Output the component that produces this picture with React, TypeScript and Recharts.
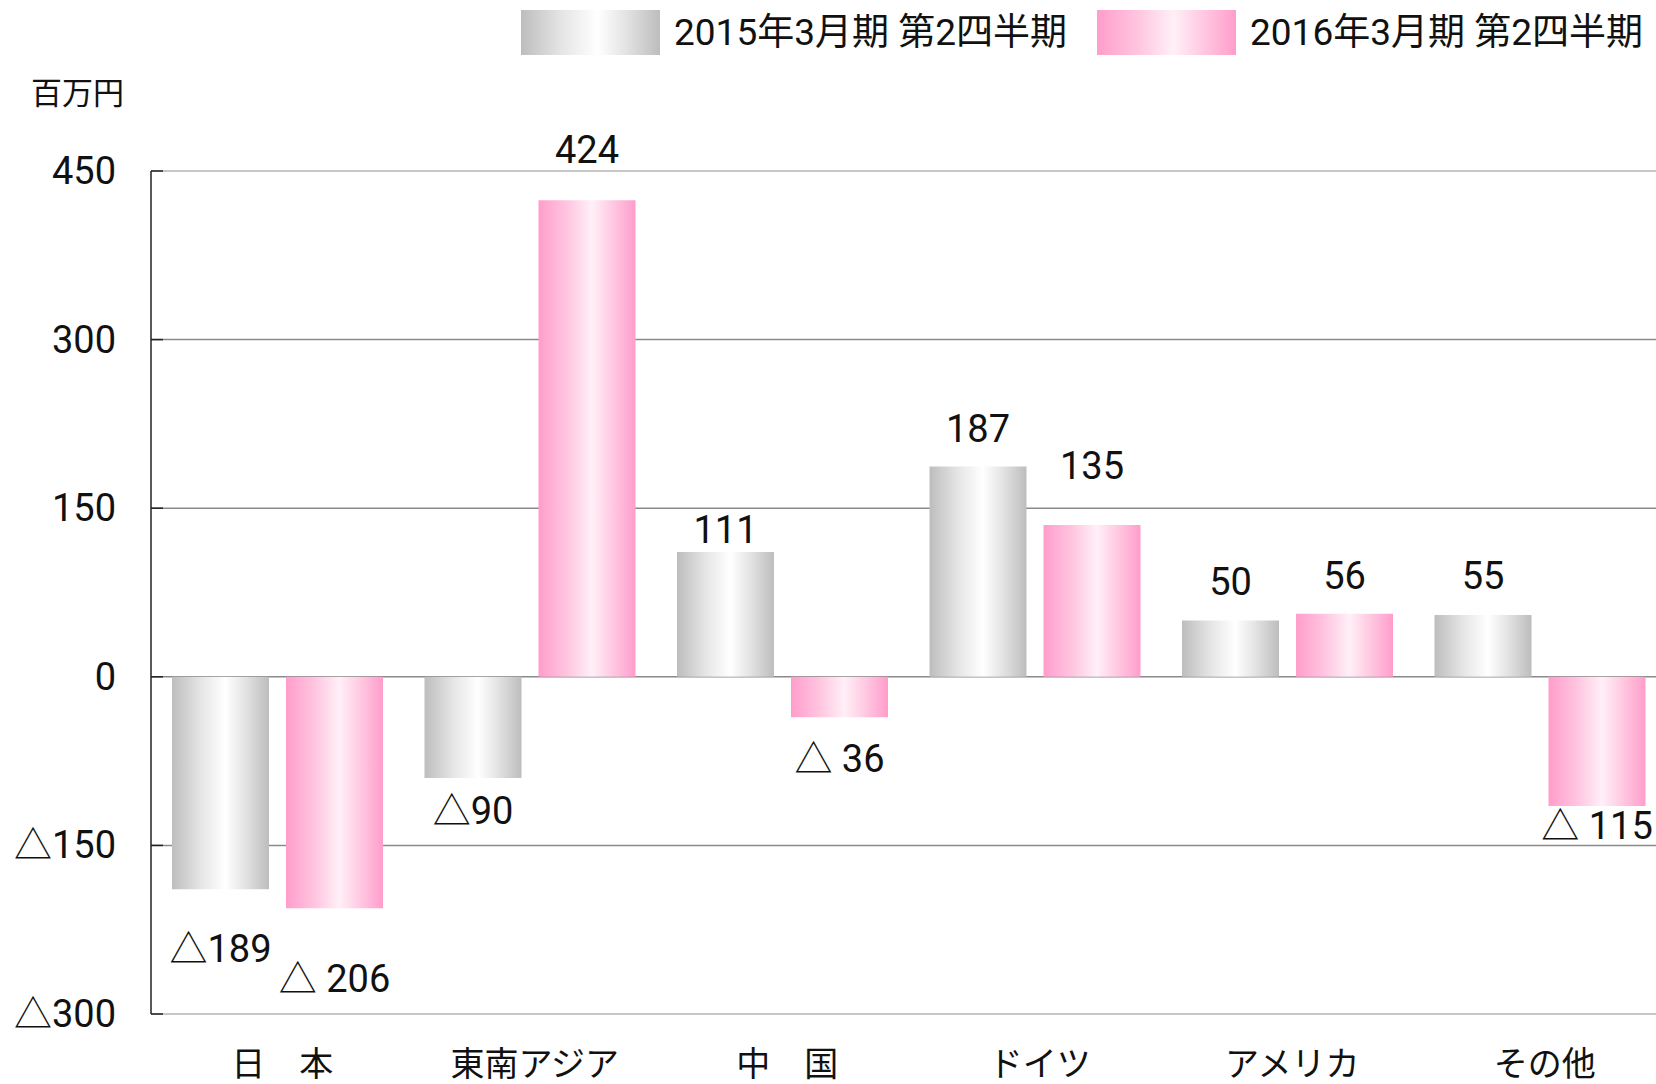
import { Bar, BarChart, CartesianGrid, LabelList, ReferenceLine, XAxis, YAxis } from 'recharts'

const regions = ['日　本', '東南アジア', '中　国', 'ドイツ', 'アメリカ', 'その他']
const fy2015 = [-189, -90, 111, 187, 50, 55]
const fy2016 = [-206, 424, -36, 135, 56, -115]
const yTicks = [-300, -150, 0, 150, 300, 450]
const seriesNames = ['2015年3月期 第2四半期', '2016年3月期 第2四半期']

// gap from the end of each bar to the middle of its value label (px)
const lift2015 = [60, 33, 22, 38, 39, 39]
const lift2016 = [71, 50, 42, 59, 38, 20]

const data = regions.map((name, i) => ({ name, a: fy2015[i], b: fy2016[i] }))

const NUM_FONT = "Roboto, 'Noto Sans CJK JP', sans-serif"
const JP_FONT = "'Noto Sans CJK JP', sans-serif"

const GRAY_BG = 'linear-gradient(to right, #bdbdbd 0%, #e6e6e6 30%, #ffffff 55%, #e4e4e4 75%, #bdbdbd 100%)'
const PINK_BG = 'linear-gradient(to right, #ff9dcb 0%, #ffc6e0 30%, #fff0f7 55%, #ffc6e0 78%, #ff9dcb 100%)'

const fmt = (v: number, gap: string) => (v < 0 ? `△${gap}${Math.abs(v)}` : String(v))

const makeLabel = (lifts: number[], gap: string) => (props: any) => {
  const vb = props.viewBox ?? {}
  const x = props.x ?? vb.x
  const y = props.y ?? vb.y
  const width = props.width ?? vb.width
  const height = props.height ?? vb.height
  const { value, index } = props
  const top = Math.min(y, y + height)
  const bottom = Math.max(y, y + height)
  const cy = value < 0 ? bottom + lifts[index] : top - lifts[index]
  return (
    <text
      x={x + width / 2}
      y={cy}
      textAnchor="middle"
      dominantBaseline="central"
      fontFamily={NUM_FONT}
      fontSize={38}
      fill="#111"
    >
      {fmt(value, gap)}
    </text>
  )
}

const YTick = (props: any) => {
  const { x, y, payload } = props
  return (
    <g>
      <line x1={x} x2={x + 12} y1={y} y2={y} stroke="#222" strokeWidth={1.5} />
      <text
        x={x - 35}
        y={y}
        textAnchor="end"
        dominantBaseline="central"
        fontFamily={NUM_FONT}
        fontSize={38}
        fill="#111"
      >
        {fmt(payload.value, '')}
      </text>
    </g>
  )
}

const XTick = (props: any) => {
  const { x, y, payload } = props
  return (
    <text
      x={x + 5}
      y={y + 47}
      textAnchor="middle"
      dominantBaseline="central"
      fontFamily={JP_FONT}
      fontSize={34}
      fill="#111"
    >
      {payload.value}
    </text>
  )
}

const LegendItem = ({ left, bg, text }: { left: number; bg: string; text: string }) => (
  <div style={{ position: 'absolute', left, top: 10, height: 45, display: 'flex', alignItems: 'center' }}>
    <div style={{ width: 139, height: 45, background: bg }} />
    <span
      style={{
        marginLeft: 14,
        fontFamily: NUM_FONT,
        fontSize: 37,
        lineHeight: '45px',
        color: '#111',
        whiteSpace: 'pre',
      }}
    >
      {text}
    </span>
  </div>
)

const App = () => {
  return (
    <div
      style={{
        position: 'fixed',
        left: 0,
        top: 0,
        width: 1656,
        height: 1084,
        overflow: 'hidden',
        background: '#fff',
      }}
    >
      <BarChart
        width={1670}
        height={1084}
        data={data}
        margin={{ top: 171, right: 4, bottom: 0, left: 0 }}
        barCategoryGap={21}
        barGap={17}
      >
        <defs>
          <linearGradient id="grayFill" x1="0" y1="0" x2="1" y2="0">
            <stop offset="0%" stopColor="#bdbdbd" />
            <stop offset="30%" stopColor="#e6e6e6" />
            <stop offset="55%" stopColor="#ffffff" />
            <stop offset="75%" stopColor="#e4e4e4" />
            <stop offset="100%" stopColor="#bdbdbd" />
          </linearGradient>
          <linearGradient id="pinkFill" x1="0" y1="0" x2="1" y2="0">
            <stop offset="0%" stopColor="#ff9dcb" />
            <stop offset="30%" stopColor="#ffc6e0" />
            <stop offset="55%" stopColor="#fff0f7" />
            <stop offset="78%" stopColor="#ffc6e0" />
            <stop offset="100%" stopColor="#ff9dcb" />
          </linearGradient>
        </defs>
        <CartesianGrid vertical={false} horizontalValues={[300, 150, 0, -150]} stroke="#8a8a8a" strokeWidth={1.5} />
        <ReferenceLine y={450} stroke="#b4b4b4" strokeWidth={1.5} />
        <XAxis
          dataKey="name"
          height={70}
          axisLine={{ stroke: '#b4b4b4', strokeWidth: 1.5 }}
          tickLine={false}
          tickSize={0}
          tickMargin={0}
          tick={<XTick />}
          interval={0}
        />
        <YAxis
          width={151}
          domain={[-300, 450]}
          ticks={yTicks}
          axisLine={{ stroke: '#222', strokeWidth: 1.5 }}
          tickLine={false}
          tickSize={0}
          tickMargin={0}
          tick={<YTick />}
          interval={0}
        />
        <Bar dataKey="a" name={seriesNames[0]} fill="url(#grayFill)" isAnimationActive={false}>
          <LabelList dataKey="a" content={makeLabel(lift2015, '')} />
        </Bar>
        <Bar dataKey="b" name={seriesNames[1]} fill="url(#pinkFill)" isAnimationActive={false}>
          <LabelList dataKey="b" content={makeLabel(lift2016, ' ')} />
        </Bar>
      </BarChart>
      <LegendItem left={521} bg={GRAY_BG} text={seriesNames[0]} />
      <LegendItem left={1097} bg={PINK_BG} text={seriesNames[1]} />
      <div
        style={{
          position: 'absolute',
          left: 31,
          top: 68,
          fontFamily: JP_FONT,
          fontSize: 31,
          color: '#111',
        }}
      >
        百万円
      </div>
    </div>
  )
}

export default App
